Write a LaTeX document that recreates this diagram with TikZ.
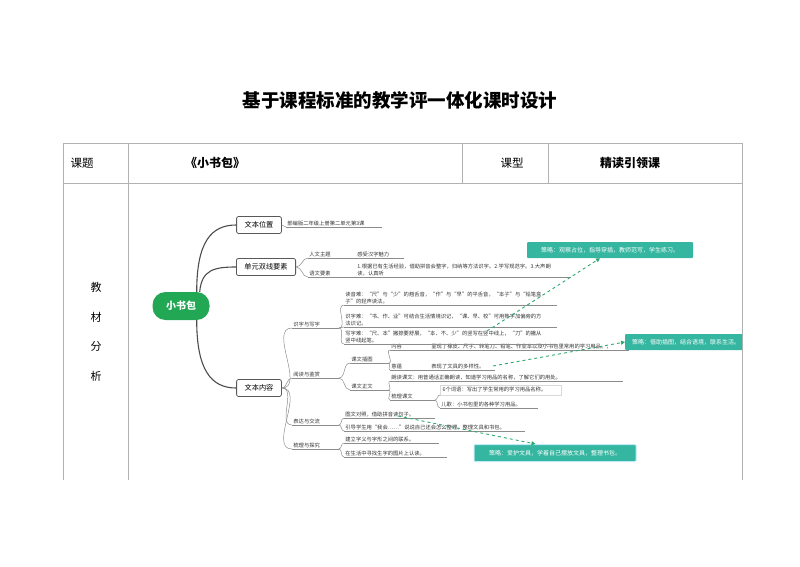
\documentclass[tikz,border=0pt]{standalone}
\usepackage{fontspec}
\setmainfont{Noto Sans CJK SC}
\usepackage{tikz}
\usetikzlibrary{arrows.meta,calc,positioning}
\definecolor{rootgreen}{RGB}{34,168,84}
\definecolor{tipteal}{RGB}{52,182,160}
\definecolor{hintgreen}{RGB}{45,168,110}
\definecolor{rule}{RGB}{178,178,178}

\begin{document}
\begin{tikzpicture}[x=1pt,y=-1pt,>=Latex]
  \tikzset{
    root/.style={fill=rootgreen,text=white,rounded corners=13pt,font=\fontsize{10}{12}\selectfont\bfseries,
                 minimum width=57pt,minimum height=28pt},
    topic/.style={draw=black!65,line width=0.8pt,rounded corners=2pt,fill=white,
                  font=\fontsize{7.2}{8}\selectfont,minimum height=17pt,inner xsep=8pt},
    leaf/.style={anchor=south west,font=\fontsize{5.3}{6.6}\selectfont,inner sep=1.2pt,
                 text=black!80,align=left},
    trunk/.style={draw=black!70,line width=1.1pt},
    twig/.style={draw=black!45,line width=0.5pt},
    tip/.style={fill=tipteal,text=white,font=\fontsize{6}{7}\selectfont,minimum height=16pt,
                inner xsep=7pt,rounded corners=1pt},
    hint/.style={draw=hintgreen,dashed,line width=0.9pt,-{Triangle[length=4pt,width=4pt]}},
    cell/.style={font=\fontsize{11.5}{13}\selectfont}
  }
  \useasboundingbox (0,0) rectangle (800,566);

  % title and table
  \node[font=\fontsize{18.5}{22}\selectfont\bfseries] (title) at (400,100) {基于课程标准的教学评一体化课时设计};
  \draw[rule,line width=0.6pt] (63,143) -- (742,143) (63,183) -- (742,183);
  \draw[rule,line width=0.6pt] (63,143) -- (63,480) (128,143) -- (128,480) (742,143) -- (742,480)
    (462,143) -- (462,183) (548,143) -- (548,183);
  \node[cell] (kt) at (82,163) {课题};
  \node[cell,font=\fontsize{12}{14}\selectfont\bfseries] (kname) at (215,163) {《小书包》};
  \node[cell] (kx) at (512,163) {课型};
  \node[cell,font=\fontsize{12}{14}\selectfont\bfseries] (ktype) at (630,163) {精读引领课};
  \node[cell,align=center,font=\fontsize{11}{29.5}\selectfont] (jcfx) at (96,332) {教\\材\\分\\析};

  % mind map
  \node[root] (xsb) at (181,306) {小书包};
  \node[topic] (wbwz) at (259,225) {文本位置};
  \node[topic] (dxys) at (266,267) {单元双线要素};
  \node[topic] (wbnr) at (259,388) {文本内容};
  \draw[trunk] ($(xsb.north east)+(-13,0)$) .. controls +(0,-50) and +(-25,0) .. (wbwz.west);
  \draw[trunk] ($(xsb.north east)+(-10,0)$) .. controls +(2,-22) and +(-22,0) .. (dxys.west);
  \draw[trunk] ($(xsb.south east)+(-13,0)$) .. controls +(0,50) and +(-25,0) .. (wbnr.west);

  \node[leaf,text width=93pt] (bwz) at (286,227) {部编版二年级上册第二单元第3课};
  \node[leaf,text width=45pt] (rwzt) at (308,258) {人文主题};
  \node[leaf,text width=45pt] (rwnr) at (356,258) {感受汉字魅力};
  \node[leaf,text width=45pt] (ywys) at (308,277) {语文要素};
  \node[leaf,text width=212pt] (ywnr) at (356,277) {1.根据已有生活经验，借助拼音会整字，归纳等方法识字。2.学写规范字。3.大声朗\\读，认真听};

  \node[leaf,text width=44pt] (sz) at (292,328) {识字与写字};
  \node[leaf,text width=210pt] (sz1) at (344,305) {读音难：“尺”与“少”的翘舌音，“作”与“早”的平舌音，“本子”与“铅笔盒\\子”的轻声读法。};
  \node[leaf,text width=210pt] (sz2) at (344,327) {识字难：“书、作、业”可结合生活情境识记，“课、早、校”可用熟字加偏旁的方\\法识记。};
  \node[leaf,text width=210pt] (sz3) at (344,344) {写字难：“尺、本”撇捺要舒展，“本、不、少”的竖写在竖中线上，“刀”的撇从\\竖中线起笔。};

  \node[leaf,text width=44pt] (yd) at (292,378) {阅读与鉴赏};
  \node[leaf,text width=36pt] (ctu) at (350,363) {课文插图};
  \node[leaf,text width=37pt] (nr) at (390,350) {内容};
  \node[leaf,text width=196pt] (nr1) at (430,350) {呈现了橡皮、尺子、转笔刀、铅笔、作业本以及小书包里常用的学习用品。，};
  \node[leaf,text width=62pt] (yy) at (390,370) {意蕴};
  \node[leaf,text width=62pt] (yy1) at (430,370) {表现了文具的多样性。};
  \node[leaf,text width=36pt] (zw) at (350,390) {课文正文};
  \node[leaf,text width=230pt] (ld) at (390,381) {朗读课文：用普通话正确朗读，知道学习用品的名称，了解它们的用处。};
  \node[leaf,text width=42pt] (slkw) at (390,400) {梳理课文};
  \node[leaf,text width=116pt,draw=black!15,inner sep=2.5pt] (sl1) at (440,395) {6个词语：写出了学生常用的学习用品名称。};
  \node[leaf,text width=95pt] (sl2) at (440,408) {儿歌：小书包里的各种学习用品。};

  \node[leaf,text width=44pt] (bd) at (292,425) {表达与交流};
  \node[leaf,text width=88pt] (bd1) at (344,418) {图文对照，借助拼音读句子。};
  \node[leaf,text width=178pt] (bd2) at (344,431) {引导学生用“我会……”说说自己还会怎么整理，整理文具和书包。};
  \node[leaf,text width=44pt] (ls) at (292,449) {梳理与探究};
  \node[leaf,text width=92pt] (ls1) at (344,443) {建立字义与字形之间的联系。};
  \node[leaf,text width=100pt] (ls2) at (344,457) {在生活中寻找生字的图片上认读。};

  \foreach \n in {bwz,rwzt,rwnr,ywys,ywnr,sz,sz1,sz2,sz3,yd,ctu,nr,nr1,yy,yy1,zw,ld,slkw,sl2,bd,bd1,bd2,ls,ls1,ls2}
    \draw[twig] (\n.south west) -- (\n.south east);

  \draw[twig] (wbwz.east) -- (bwz.south west);
  \foreach \n in {rwzt,ywys} \draw[twig] (dxys.east) to[out=0,in=180] (\n.south west);
  \foreach \n in {sz,yd,bd,ls} \draw[twig] (wbnr.east) to[out=0,in=180] (\n.south west);
  \foreach \n in {sz1,sz2,sz3} \draw[twig] (sz.south east) to[out=0,in=180] (\n.south west);
  \foreach \n in {ctu,zw} \draw[twig] (yd.south east) to[out=0,in=180] (\n.south west);
  \foreach \n in {nr,yy} \draw[twig] (ctu.south east) to[out=0,in=180] (\n.south west);
  \foreach \n in {ld,slkw} \draw[twig] (zw.south east) to[out=0,in=180] (\n.south west);
  \foreach \n in {sl1,sl2} \draw[twig] (slkw.south east) to[out=0,in=180] (\n.south west);
  \foreach \n in {bd1,bd2} \draw[twig] (bd.south east) to[out=0,in=180] (\n.south west);
  \foreach \n in {ls1,ls2} \draw[twig] (ls.south east) to[out=0,in=180] (\n.south west);

  % strategy notes
  \node[tip,minimum width=166pt] (tip1) at (610,250) {策略：观察占位，指导穿插，教师范写，学生练习。};
  \begin{scope}
    \clip (0,0) rectangle (742,566);
    \node[tip,anchor=west,minimum width=150pt,align=left,text width=136pt] (tip2) at (625,342) {策略：借助插图，结合语境，联系生活。};
  \end{scope}
  \node[tip,minimum width=162pt,minimum height=17pt,draw=cyan!25,line width=1pt] (tip3) at (555,453) {策略：爱护文具，学着自己摆放文具，整理书包。};

  \coordinate (h1) at (487,331);
  \coordinate (h2) at (493,366);
  \coordinate (h3) at (398,416);
  \draw[hint] (h1) -- ($(tip1.south)+(-10,0)$);
  \draw[hint] (h2) -- (tip2.west);
  \draw[hint] (h3) -- ($(tip3.north west)+(62,0)$);
\end{tikzpicture}
\end{document}
